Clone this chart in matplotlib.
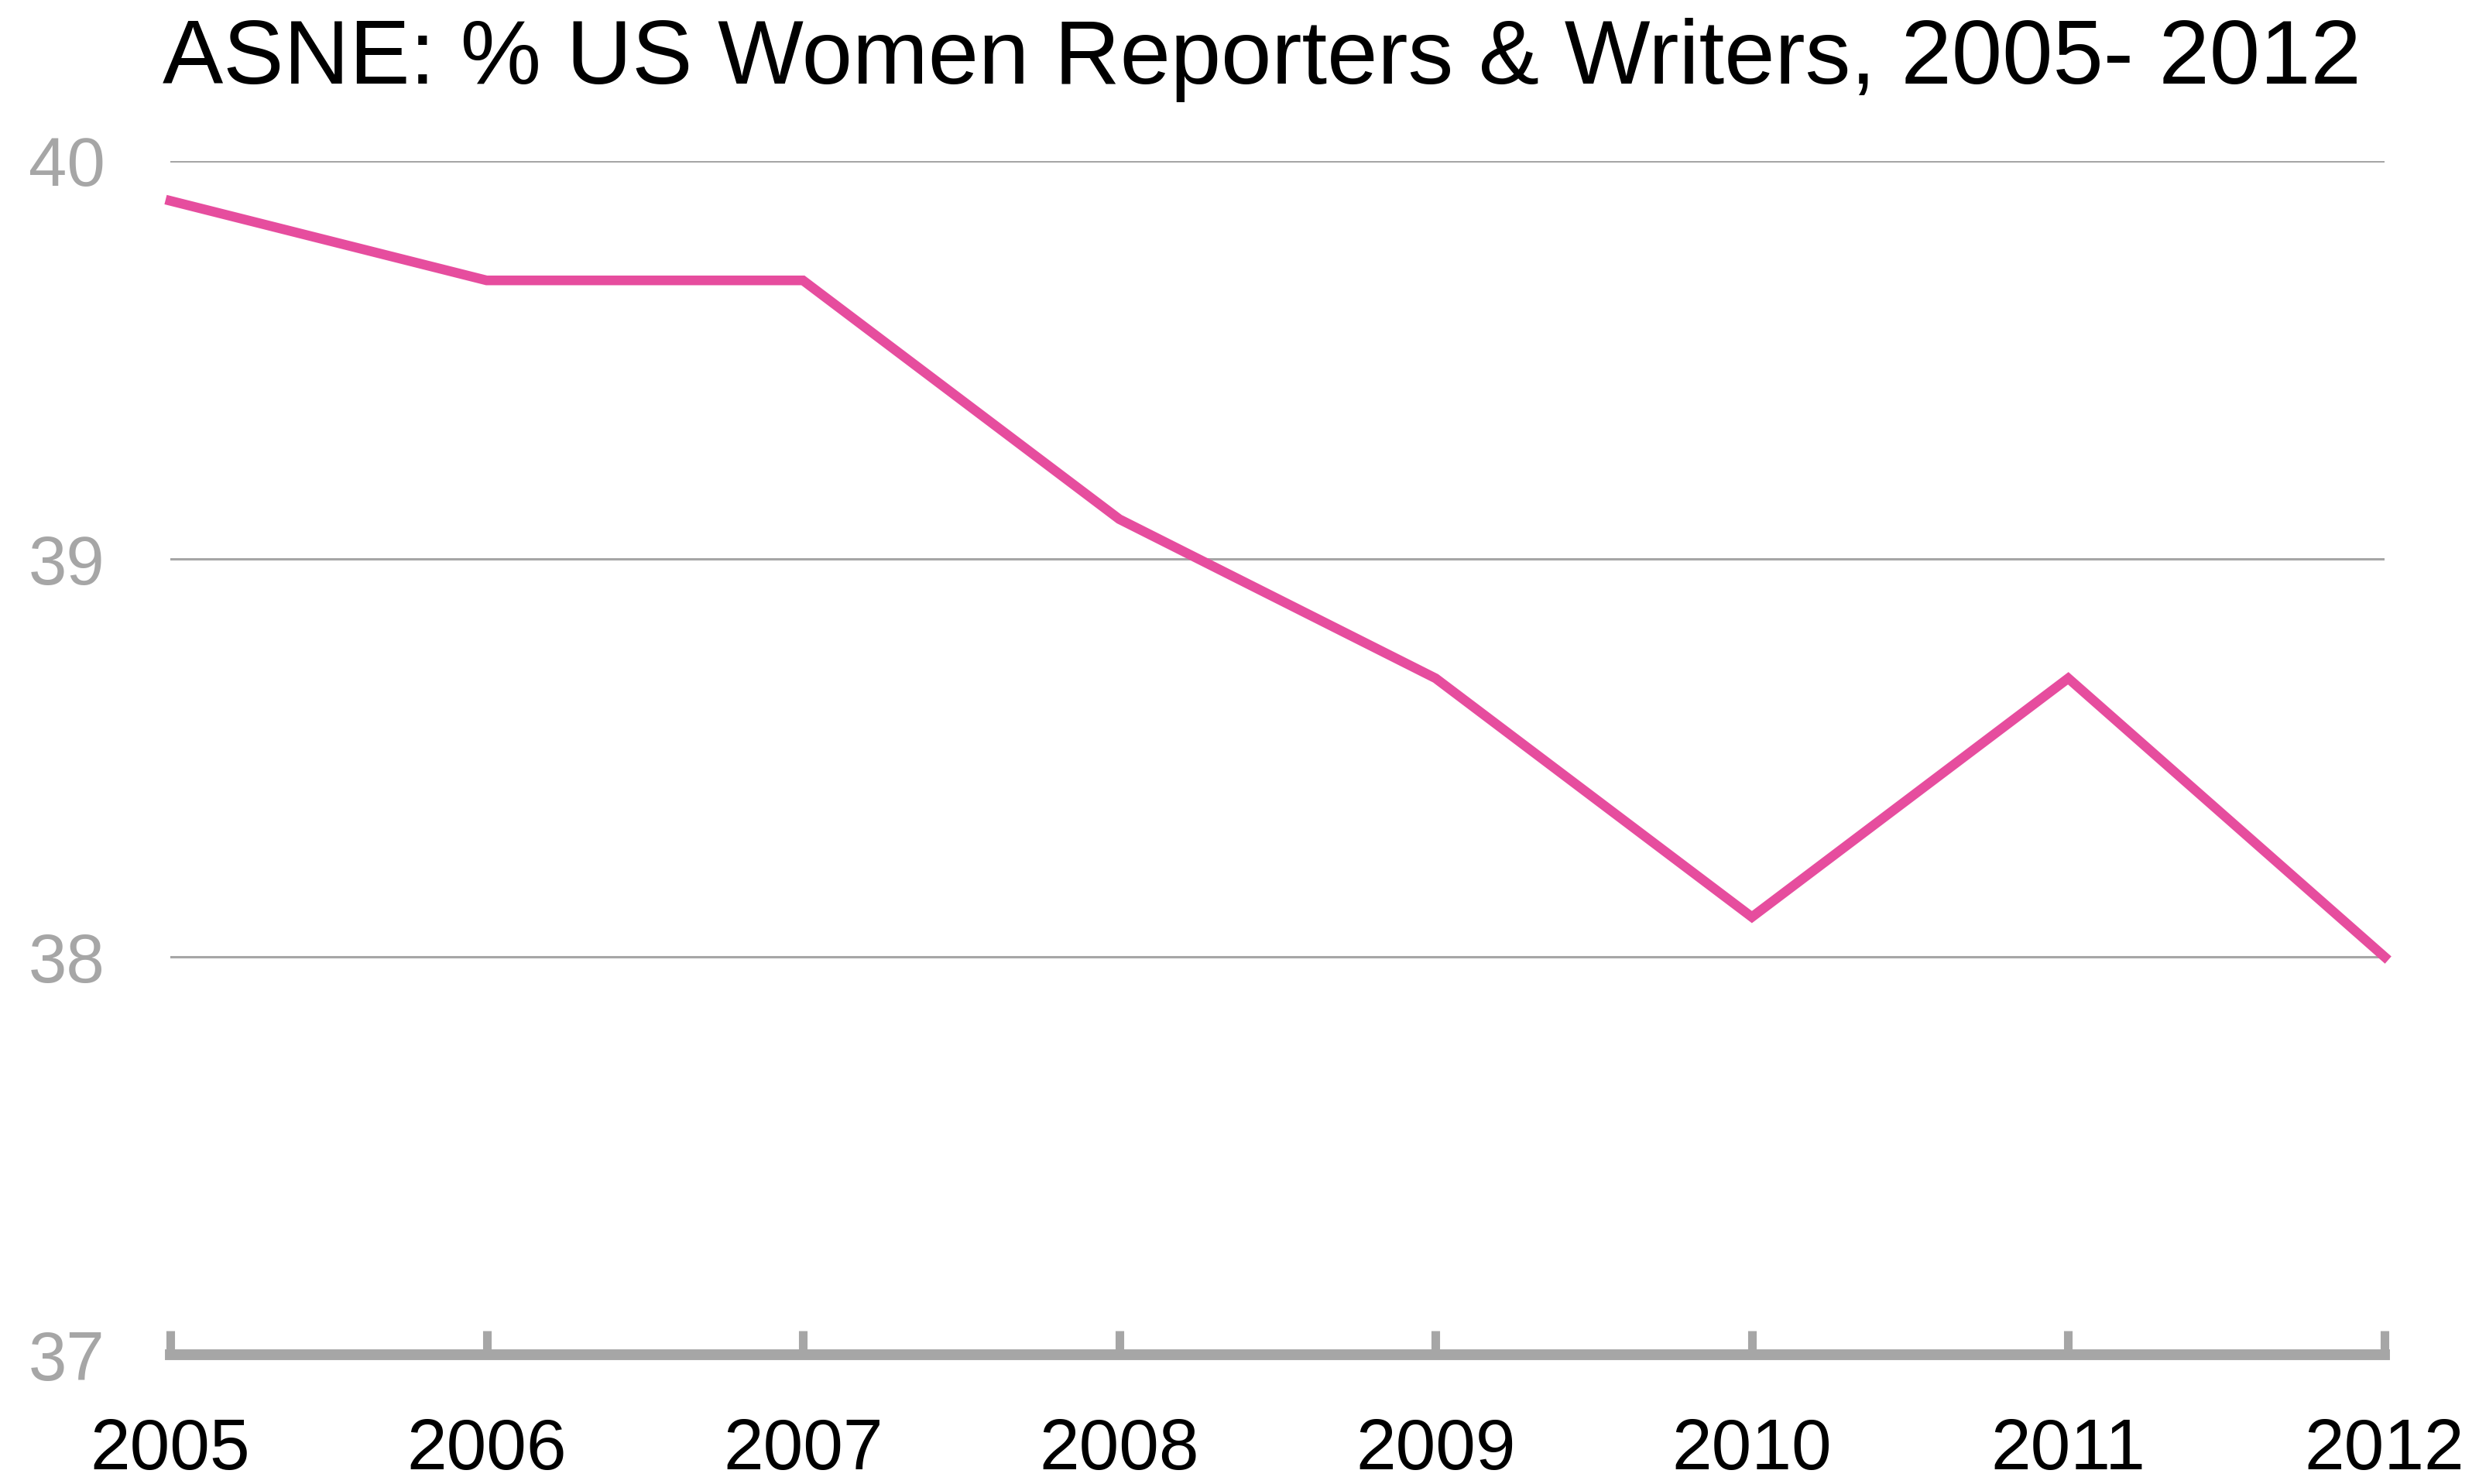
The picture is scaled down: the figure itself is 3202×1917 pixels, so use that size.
import matplotlib
matplotlib.use("Agg")
import matplotlib.pyplot as plt

years = [2005, 2006, 2007, 2008, 2009, 2010, 2011, 2012]
pct_women = [39.9, 39.7, 39.7, 39.1, 38.7, 38.1, 38.7, 38.0]
y_ticks = [37, 38, 39, 40]

PINK = "#E64D9E"
GREY = "#A6A6A6"

plt.rcParams["font.family"] = ["Liberation Sans", "DejaVu Sans"]

fig = plt.figure(figsize=(32.02, 19.17), dpi=100)
ax = fig.add_axes([0.0687, 0.0871, 0.9619 - 0.0687, 0.8915 - 0.0871])

# horizontal guides
for y in y_ticks[1:]:
    ax.axhline(y, color=GREY, linewidth=2.2, zorder=1)

# thick baseline with tick marks pointing up
ax.axhline(y_ticks[0], color=GREY, linewidth=10, solid_capstyle="projecting",
           clip_on=False, zorder=2)

ax.plot(years, pct_women, color=PINK, linewidth=9, solid_joinstyle="miter",
        zorder=3, clip_on=False)

ax.set_xlim(years[0], years[-1])
ax.set_ylim(37, 40)
for s in ax.spines.values():
    s.set_visible(False)

ax.set_xticks(years)
ax.set_xticklabels([str(y) for y in years])
ax.tick_params(axis="x", direction="in", length=22, width=8, color=GREY,
               labelsize=67, labelcolor="black", pad=58)
ax.set_yticks(y_ticks)
ax.set_yticklabels([str(y) for y in y_ticks])
ax.tick_params(axis="y", length=0, labelsize=64, labelcolor=GREY, pad=132)
for lbl in ax.get_yticklabels():
    lbl.set_horizontalalignment("left")

fig.text(0.0656, 0.988, "ASNE: % US Women Reporters & Writers, 2005- 2012",
         fontsize=84.5, ha="left", va="top", color="black")

fig.savefig("out.png", dpi=100, facecolor="white")
